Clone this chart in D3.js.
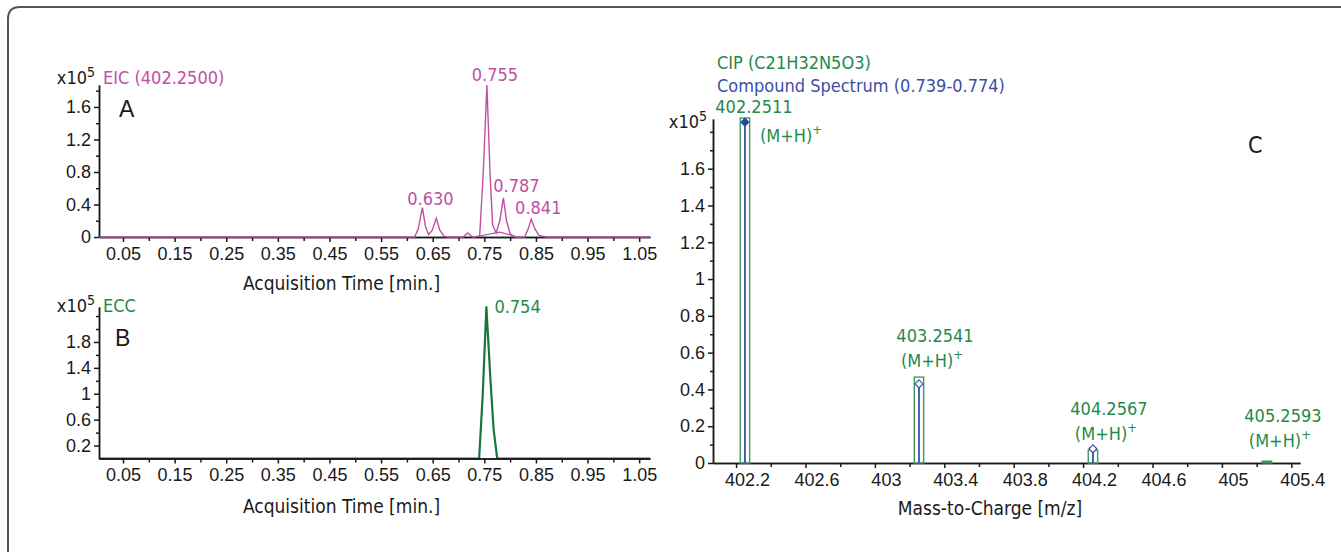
<!DOCTYPE html>
<html>
<head>
<meta charset="utf-8">
<script src="https://cdn.jsdelivr.net/npm/d3@7"></script>
<style>
  body { margin: 0; background: #fff; }
  svg { display: block; font-family: "Liberation Sans Narrow", "DejaVu Sans Condensed", Roboto, sans-serif; }
  .axis path, .axis line { stroke: #1a1a1a; stroke-width: 1.5; }
  .axis text { font-size: 18px; fill: #1a1a1a; font-family: inherit; }
</style>
</head>
<body>
<svg id="chart" width="1341" height="552"></svg>
<script>
// ---- data ----
const timeTicks = [0.05, 0.15, 0.25, 0.35, 0.45, 0.55, 0.65, 0.75, 0.85, 0.95, 1.05];
const timeMinorTicks = [0.1, 0.2, 0.3, 0.4, 0.5, 0.6, 0.7, 0.8, 0.9, 1.0];

const eicTicks = [0, 0.4, 0.8, 1.2, 1.6];
const eicMinorTicks = [0.2, 0.6, 1.0, 1.4, 1.8];
// EIC (402.2500), intensity x10^5
const eicTrace = [
  [0.004, 0], [0.615, 0], [0.622, 0.1], [0.630, 0.36], [0.636, 0.13], [0.642, 0.03],
  [0.649, 0.08], [0.657, 0.23], [0.664, 0.08], [0.672, 0.01], [0.68, 0],
  [0.709, 0], [0.718, 0.05], [0.727, 0], [0.741, 0.01], [0.748, 0.8], [0.755, 1.87],
  [0.761, 0.8], [0.766, 0.15], [0.773, 0.05], [0.780, 0.2], [0.787, 0.48],
  [0.793, 0.2], [0.800, 0.04], [0.81, 0], [0.828, 0], [0.835, 0.1], [0.841, 0.22],
  [0.848, 0.1], [0.856, 0.02], [0.87, 0], [1.071, 0]
];
const eicBroad = [[0.73, 0], [0.78, 0.06], [0.815, 0]];
const eicPeakTimes = [0.630, 0.755, 0.787, 0.841];
const eicPeakHeights = [0.36, 1.87, 0.48, 0.22];

const eccTicks = [0.2, 0.6, 1, 1.4, 1.8];
const eccMinorTicks = [0.4, 0.8, 1.2, 1.6, 2.0, 2.2];
// ECC, intensity x10^5
const eccTrace = [
  [0.004, 0], [0.740, 0], [0.747, 1.0], [0.754, 2.34], [0.762, 1.2],
  [0.768, 0.45], [0.775, 0], [1.071, 0]
];
const eccPeakTime = 0.754;
const eccPeakHeight = 2.34;

const mzTicks = [402.2, 402.6, 403, 403.4, 403.8, 404.2, 404.6, 405, 405.4];
const mzMinorTicks = [402.4, 402.8, 403.2, 403.6, 404, 404.4, 404.8, 405.2];
const abundTicks = [0, 0.2, 0.4, 0.6, 0.8, 1, 1.2, 1.4, 1.6];
const abundMinorTicks = [0.1, 0.3, 0.5, 0.7, 0.9, 1.1, 1.3, 1.5, 1.7, 1.8];

const ionMz = [402.2511, 403.2541, 404.2567, 405.2593];
const cipAbundance = [1.875, 0.467, 0.07, 0.01];
const spectrumAbundance = [1.853, 0.43, 0.077, 0];

// ---- styles ----
const magenta = "#c04fa2";
const green = "#1f8a4a";
const darkGreen = "#17743a";
const blue = "#3d4fa6";
const ink = "#1a1a1a";

const svg = d3.select("#chart");

svg.append("path")
  .attr("d", "M8,552 V19 Q8,7 20,7 H1341")
  .attr("fill", "none")
  .attr("stroke", "#555")
  .attr("stroke-width", 2);

function drawAxes(x, y, xMajor, xMinor, yMajor, yMinor, xLabelDx) {
  const [x0] = x.range();
  const [y0] = y.range();
  svg.append("g").attr("class", "axis")
    .attr("transform", `translate(0,${y0})`)
    .call(d3.axisBottom(x).tickValues(xMinor).tickSize(4).tickSizeOuter(0).tickFormat(""));
  svg.append("g").attr("class", "axis")
    .attr("transform", `translate(0,${y0})`)
    .call(d3.axisBottom(x).tickValues(xMajor).tickSize(5).tickSizeOuter(0).tickPadding(5).tickFormat(d3.format("~g")))
    .call(g => g.selectAll("text").attr("dx", xLabelDx));
  svg.append("g").attr("class", "axis")
    .attr("transform", `translate(${x0},0)`)
    .call(d3.axisLeft(y).tickValues(yMinor).tickSize(3).tickSizeOuter(0).tickFormat(""));
  svg.append("g").attr("class", "axis")
    .attr("transform", `translate(${x0},0)`)
    .call(d3.axisLeft(y).tickValues(yMajor).tickSize(5).tickSizeOuter(0).tickPadding(3).tickFormat(d3.format("~g")));
}

function exponent(xPos, yPos) {
  const t = svg.append("text").attr("x", xPos).attr("y", yPos)
    .attr("text-anchor", "end").attr("font-size", 18).attr("fill", ink);
  t.append("tspan").text("x10");
  t.append("tspan").attr("dy", -7).attr("font-size", 14).text("5");
}

function label(xPos, yPos, text, color, opts = {}) {
  return svg.append("text").attr("x", xPos).attr("y", yPos)
    .attr("fill", color).attr("font-size", opts.size || 18)
    .attr("text-anchor", opts.anchor || "start")
    .attr("font-family", opts.family || null)
    .text(text);
}

// ---- panel A: EIC ----
const xA = d3.scaleLinear().domain([0.0035, 1.071]).range([99, 650]);
const yA = d3.scaleLinear().domain([0, 1.87]).range([237, 85]);
const lineA = d3.line().x(d => xA(d[0])).y(d => yA(d[1]));

drawAxes(xA, yA, timeTicks, timeMinorTicks, eicTicks, eicMinorTicks, 0);
svg.append("path").datum(eicBroad).attr("d", lineA)
  .attr("fill", "none").attr("stroke", magenta).attr("stroke-width", 1.2);
svg.append("path").datum(eicTrace).attr("d", lineA)
  .attr("fill", "none").attr("stroke", magenta).attr("stroke-width", 1.4);

const eicLabelDx = [8, 8, 13, 7];
const eicLabelDy = [-3, -4, -6, -5];
eicPeakTimes.forEach((t, i) => {
  label(xA(t) + eicLabelDx[i], yA(eicPeakHeights[i]) + eicLabelDy[i], t.toFixed(3), magenta, { anchor: "middle" });
});

exponent(95, 84);
label(103, 84, "EIC (402.2500)", magenta);
label(119, 117, "A", ink, { size: 23, family: "Liberation Sans, Arial, sans-serif" });
label((xA.range()[0] + xA.range()[1]) / 2 - 33, 290, "Acquisition Time [min.]", ink, { anchor: "middle", size: 19 });

// ---- panel B: ECC ----
const xB = d3.scaleLinear().domain([0.0035, 1.071]).range([99, 650]);
const yB = d3.scaleLinear().domain([0, 2.34]).range([458.5, 307]);
const lineB = d3.line().x(d => xB(d[0])).y(d => yB(d[1]));

// trace first so the black axis sits over its flat baseline
svg.append("path").datum(eccTrace).attr("d", lineB)
  .attr("fill", "none").attr("stroke", darkGreen).attr("stroke-width", 2.2)
  .attr("stroke-linejoin", "round");
drawAxes(xB, yB, timeTicks, timeMinorTicks, eccTicks, eccMinorTicks, 0);
label(xB(eccPeakTime) + 8, yB(eccPeakHeight) + 6, eccPeakTime.toFixed(3), green);

exponent(95, 312);
label(103, 312, "ECC", green);
label(115, 346, "B", ink, { size: 23, family: "Liberation Sans, Arial, sans-serif" });
label((xB.range()[0] + xB.range()[1]) / 2 - 33, 513, "Acquisition Time [min.]", ink, { anchor: "middle", size: 19 });

// ---- panel C: spectrum ----
const xC = d3.scaleLinear().domain([402.067, 405.45]).range([713, 1300]);
const yC = d3.scaleLinear().domain([0, 1.87]).range([463, 119]);

drawAxes(xC, yC, mzTicks, mzMinorTicks, abundTicks, abundMinorTicks, 11);

const halfWidth = 0.027;
svg.append("g").selectAll("rect")
  .data(ionMz)
  .join("rect")
  .attr("x", d => xC(d - halfWidth))
  .attr("width", d => xC(d + halfWidth) - xC(d - halfWidth))
  .attr("y", (d, i) => yC(cipAbundance[i]))
  .attr("height", (d, i) => yC(0) - yC(cipAbundance[i]))
  .attr("fill", (d, i) => i === 3 ? green : "none")
  .attr("stroke", "#3f9a5e")
  .attr("stroke-width", 1.4);

svg.append("g").selectAll("line")
  .data(ionMz)
  .join("line")
  .attr("x1", d => xC(d)).attr("x2", d => xC(d))
  .attr("y1", yC(0))
  .attr("y2", (d, i) => yC(spectrumAbundance[i]))
  .attr("stroke", blue)
  .attr("stroke-width", 1.8);

svg.append("g").selectAll("path")
  .data(ionMz.slice(0, 3))
  .join("path")
  .attr("d", d3.symbol(d3.symbolDiamond2, 40))
  .attr("transform", (d, i) => `translate(${xC(d)},${yC(spectrumAbundance[i])})`)
  .attr("fill", (d, i) => i === 0 ? "#2b3f9e" : "#fff")
  .attr("stroke", blue)
  .attr("stroke-width", 1.2);

function mhLabel(xPos, yPos, anchor) {
  const t = svg.append("text").attr("x", xPos).attr("y", yPos)
    .attr("fill", green).attr("font-size", 18).attr("text-anchor", anchor);
  t.append("tspan").text("(M+H)");
  t.append("tspan").attr("dy", -8).attr("font-size", 13).text("+");
}

ionMz.forEach((mz, i) => {
  if (i === 0) {
    label(xC(mz) + 9, 113, mz.toFixed(4), green, { anchor: "middle" });
    mhLabel(xC(mz) + 15, 142, "start");
  } else {
    const base = Math.min(yC(cipAbundance[i]) - 10, 447);
    label(xC(mz) + 16, base - 25, mz.toFixed(4), green, { anchor: "middle" });
    mhLabel(xC(mz) + 13, base, "middle");
  }
});

exponent(707, 128);
label(717, 69, "CIP (C21H32N5O3)", green);
label(717, 92, "Compound Spectrum (0.739-0.774)", blue);
label(1248, 153, "C", ink, { size: 23 });
label(990, 515, "Mass-to-Charge [m/z]", ink, { anchor: "middle", size: 19 });
</script>
</body>
</html>
